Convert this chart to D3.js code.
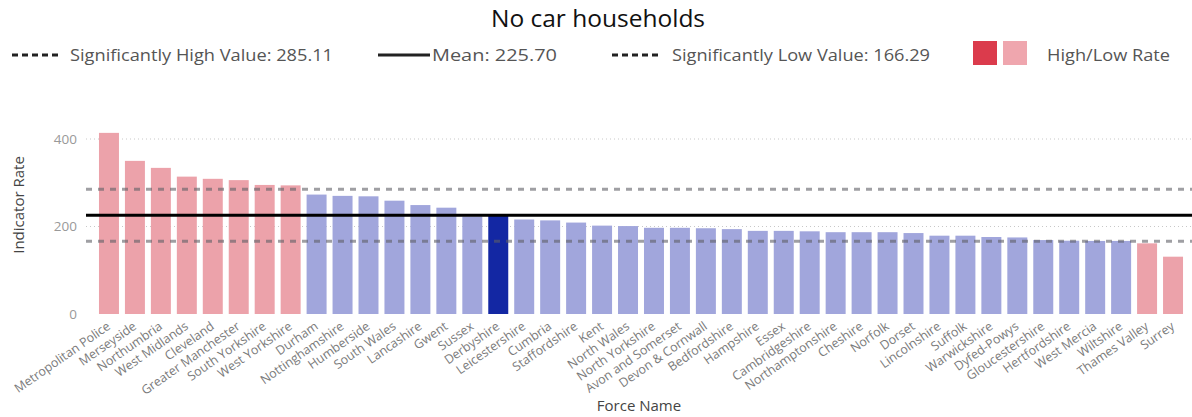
<!DOCTYPE html>
<html>
<head>
<meta charset="utf-8">
<script src="https://cdn.jsdelivr.net/npm/d3@7"></script>
<style>
  html, body { margin: 0; padding: 0; background: #fff; }
  svg { display: block; font-family: "Open Sans", "Noto Sans", sans-serif; }
</style>
</head>
<body>
<svg id="chart" width="1192" height="417"></svg>
<script>
// Police force areas, sorted by rate (descending)
const forces = [
  "Metropolitan Police", "Merseyside", "Northumbria", "West Midlands", "Cleveland",
  "Greater Manchester", "South Yorkshire", "West Yorkshire", "Durham", "Nottinghamshire",
  "Humberside", "South Wales", "Lancashire", "Gwent", "Sussex", "Derbyshire",
  "Leicestershire", "Cumbria", "Staffordshire", "Kent", "North Wales", "North Yorkshire",
  "Avon and Somerset", "Devon & Cornwall", "Bedfordshire", "Hampshire", "Essex",
  "Cambridgeshire", "Northamptonshire", "Cheshire", "Norfolk", "Dorset", "Lincolnshire",
  "Suffolk", "Warwickshire", "Dyfed-Powys", "Gloucestershire", "Hertfordshire",
  "West Mercia", "Wiltshire", "Thames Valley", "Surrey"
];

// Indicator rate per force
const rates = [
  414, 350, 334, 314, 309,
  306, 295, 294, 273, 270,
  269, 259, 249, 243, 223, 226,
  216, 214, 209, 202, 201, 197,
  197, 196, 194, 190, 190,
  189, 187, 187, 187, 185, 179,
  179, 176, 175, 169, 167.5,
  167, 167, 161.5, 131
];

// Reference lines
const meanValue = 225.70;
const highValue = 285.11;
const lowValue = 166.29;
const selectedForce = "Derbyshire";

const yTicks = [0, 200, 400];

const legendItems = [
  { label: "Significantly High Value: 285.11", kind: "dash" },
  { label: "Mean: 225.70", kind: "solid" },
  { label: "Significantly Low Value: 166.29", kind: "dash" }
];

const colors = {
  outlier: "#eca2aa",
  normal: "#a1a6dc",
  selected: "#1327a3",
  legendDark: "#db3b4c",
  legendLight: "#efa6ae"
};

const W = 1192, H = 417;
const svg = d3.select("#chart");

const x = d3.scaleBand()
  .domain(forces)
  .range([86, 1196])
  .paddingInner(0.23)
  .paddingOuter(0.5);

const y = d3.scaleLinear()
  .domain([0, 400])
  .range([314, 139]);

const plotLeft = 86, plotRight = W;

// Title
svg.append("text")
  .attr("x", 598).attr("y", 27)
  .attr("text-anchor", "middle")
  .attr("font-size", 24.5)
  .attr("fill", "#111")
  .text("No car households");

// Legend
const legend = svg.append("g").attr("transform", "translate(0,55)");
const legendPos = [
  { x0: 12, x1: 60, tx: 70, w: 263 },
  { x0: 378, x1: 430, tx: 432, w: 125 },
  { x0: 612, x1: 658, tx: 672, w: 258 }
];
legendItems.forEach((d, i) => {
  const p = legendPos[i];
  legend.append("line")
    .attr("x1", p.x0).attr("x2", p.x1)
    .attr("stroke", "#222")
    .attr("stroke-width", 3)
    .attr("stroke-dasharray", d.kind === "dash" ? "6,4" : null);
  legend.append("text")
    .attr("x", p.tx).attr("dy", "0.35em")
    .attr("font-size", 17)
    .attr("fill", "#555")
    .attr("textLength", p.w)
    .attr("lengthAdjust", "spacingAndGlyphs")
    .text(d.label);
});
legend.append("rect").attr("x", 973).attr("y", -14).attr("width", 24).attr("height", 24)
  .attr("fill", colors.legendDark);
legend.append("rect").attr("x", 1003).attr("y", -14).attr("width", 24).attr("height", 24)
  .attr("fill", colors.legendLight);
legend.append("text")
  .attr("x", 1047).attr("dy", "0.35em")
  .attr("font-size", 17)
  .attr("fill", "#555")
  .attr("textLength", 123)
  .attr("lengthAdjust", "spacingAndGlyphs")
  .text("High/Low Rate");

// Gridlines
svg.append("g")
  .selectAll("line")
  .data(yTicks.filter(t => t > 0))
  .join("line")
  .attr("x1", plotLeft).attr("x2", plotRight)
  .attr("y1", d => y(d)).attr("y2", d => y(d))
  .attr("stroke", "#c8c8c8")
  .attr("stroke-width", 1)
  .attr("stroke-dasharray", "1,3");

// Y axis labels
const yAxis = svg.append("g")
  .attr("transform", `translate(${plotLeft},0)`)
  .call(d3.axisLeft(y).tickValues(yTicks).tickSize(0).tickPadding(9));
yAxis.select(".domain").remove();
yAxis.selectAll("text")
  .attr("font-family", "\"Open Sans\", \"Noto Sans\", sans-serif")
  .attr("font-size", 13.5)
  .attr("fill", "#999");

svg.append("text")
  .attr("transform", `translate(24,205) rotate(-90)`)
  .attr("text-anchor", "middle")
  .attr("font-size", 15)
  .attr("fill", "#444")
  .text("Indicator Rate");

// Bars
const barColor = (name, v) => {
  if (name === selectedForce) return colors.selected;
  if (v > highValue || v < lowValue) return colors.outlier;
  return colors.normal;
};
svg.append("g")
  .selectAll("rect")
  .data(forces.map((f, i) => ({ force: f, value: rates[i] })))
  .join("rect")
  .attr("x", d => x(d.force))
  .attr("y", d => y(d.value))
  .attr("width", x.bandwidth())
  .attr("height", d => y(0) - y(d.value))
  .attr("fill", d => barColor(d.force, d.value));

// Significance thresholds
svg.append("g")
  .selectAll("line")
  .data([highValue, lowValue])
  .join("line")
  .attr("x1", plotLeft).attr("x2", plotRight)
  .attr("y1", d => y(d)).attr("y2", d => y(d))
  .attr("stroke", "#5f5f66")
  .attr("stroke-opacity", 0.6)
  .attr("stroke-width", 3)
  .attr("stroke-dasharray", "6,6");

// Mean
svg.append("line")
  .attr("x1", plotLeft).attr("x2", plotRight)
  .attr("y1", y(meanValue)).attr("y2", y(meanValue))
  .attr("stroke", "#000")
  .attr("stroke-width", 3);

// X axis labels
svg.append("g")
  .selectAll("text")
  .data(forces)
  .join("text")
  .attr("transform", d => `translate(${x(d) + x.bandwidth() / 2 - 2},${y(0) + 8}) rotate(-35)`)
  .attr("text-anchor", "end")
  .attr("dy", "0.6em")
  .attr("font-size", 12.5)
  .attr("fill", "#7a7a7a")
  .text(d => d);

svg.append("text")
  .attr("x", (plotLeft + plotRight) / 2).attr("y", 411)
  .attr("text-anchor", "middle")
  .attr("font-size", 15)
  .attr("fill", "#444")
  .text("Force Name");
</script>
</body>
</html>
